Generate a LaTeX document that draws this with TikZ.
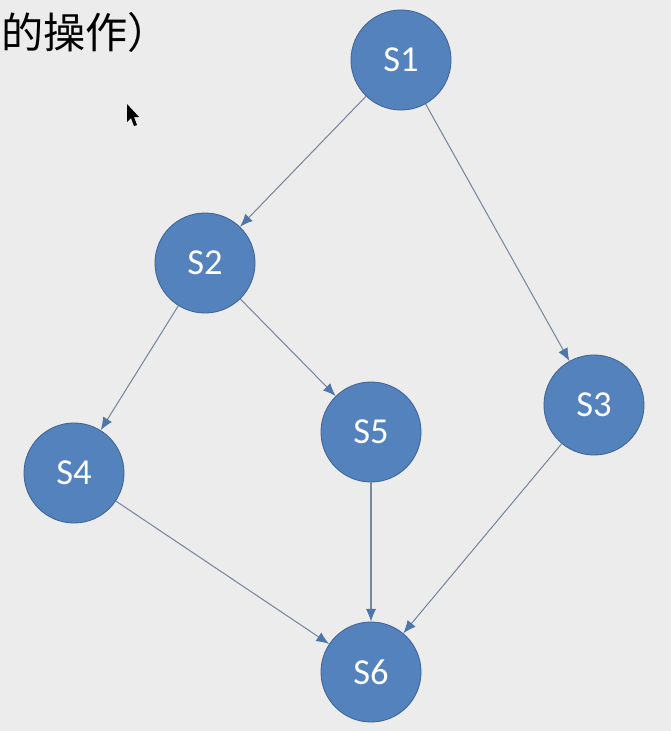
\documentclass[tikz,border=0pt]{standalone}
\usepackage{fontspec}
\setmainfont{Carlito}
\newfontfamily\cjkfont{Noto Sans CJK SC}
\definecolor{slidebg}{RGB}{236,236,236}
\definecolor{stateblue}{RGB}{84,130,188}
\definecolor{stateedge}{RGB}{62,100,148}
\definecolor{linkgray}{RGB}{120,136,158}
\definecolor{tipblue}{RGB}{78,118,170}
\usetikzlibrary{arrows.meta}

\begin{document}
\begin{tikzpicture}[x=0.025cm, y=-0.025cm,
    state/.style={draw=stateedge, line width=0.6pt, circle, fill=stateblue,
        minimum size=2.5cm, inner sep=0pt, text=white,
        font=\fontsize{26}{30}\selectfont},
    link/.style={linkgray, line width=0.75pt,
        -{Latex[length=0.32cm, width=0.26cm, color=tipblue]}}]
    % Slide background
    \useasboundingbox (0,0) rectangle (671,731);
    \fill[slidebg] (0,0) rectangle (671,731);
    \clip (0,0) rectangle (671,731);

    % Heading and mouse pointer
    \node[anchor=base west, inner sep=0pt, font=\cjkfont\fontsize{30}{34}\selectfont]
        (head) at (1,48) {的操作）};
    \fill[black] (127,104) -- (127,122) -- (131,118) -- (134,126) -- (137,125)
        -- (134,117) -- (139,117) -- cycle;

    % States
    \foreach \n/\x/\y in {1/401/60, 2/205/263, 3/594/405, 4/74/473, 5/371/432, 6/371/672} {
        \node[state] (S\n) at (\x,\y) {S\n};
    }

    % Transitions
    \foreach \a/\b in {1/2, 1/3, 2/4, 2/5, 4/6, 5/6, 3/6} {
        \draw[link] (S\a) -- (S\b);
    }
\end{tikzpicture}
\end{document}
